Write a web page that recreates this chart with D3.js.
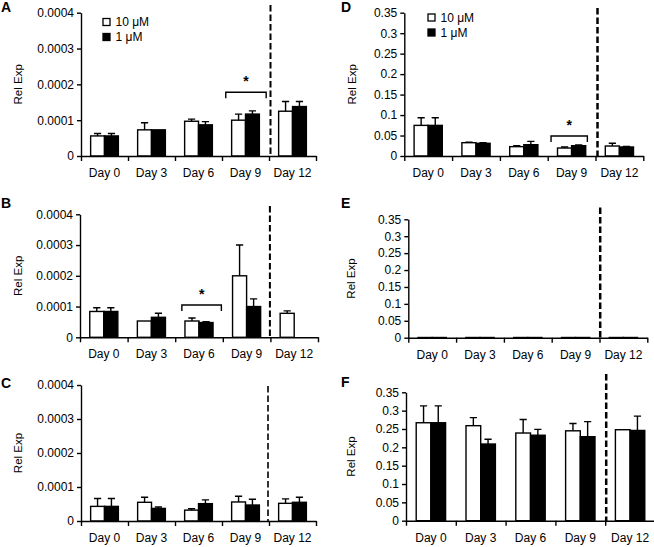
<!DOCTYPE html>
<html><head><meta charset="utf-8">
<script src="https://cdn.jsdelivr.net/npm/d3@7"></script>
<style>
body{margin:0;background:#fff}
svg{display:block}
text{font-family:"Liberation Sans",Arial,Helvetica,sans-serif;fill:#000}
</style>
</head><body>
<svg id="chart" width="654" height="547"></svg>
<script>
// ---------- DATA ----------
const categories = ["Day 0", "Day 3", "Day 6", "Day 9", "Day 12"];
const seriesNames = ["10 μM", "1 μM"];

const smallTicks = [0, 0.0001, 0.0002, 0.0003, 0.0004];
const smallTickLabels = ["0", "0.0001", "0.0002", "0.0003", "0.0004"];
const largeTicks = [0, 0.05, 0.1, 0.15, 0.2, 0.25, 0.3, 0.35];
const largeTickLabels = ["0", "0.05", "0.1", "0.15", "0.2", "0.25", "0.3", "0.35"];

// Panel A
const aHigh    = [0.000056, 0.000073, 0.000097, 0.000100, 0.000125];
const aHighErr = [0.000007, 0.000020, 0.000006, 0.000017, 0.000027];
const aLow     = [0.000056, 0.000073, 0.000087, 0.000117, 0.000138];
const aLowErr  = [0.000007, 0,        0.000009, 0.000009, 0.000014];
// Panel B
const bHigh    = [0.000084, 0.000053, 0.000053, 0.000200, 0.000078];
const bHighErr = [0.000012, 0,        0.000010, 0.000100, 0.000008];
const bLow     = [0.000084, 0.000065, 0.000048, 0.000100, null];
const bLowErr  = [0.000012, 0.000013, 0.000003, 0.000025, null];
// Panel C
const cHigh    = [0.000043, 0.000055, 0.000032, 0.000056, 0.000052];
const cHighErr = [0.000023, 0.000015, 0.000004, 0.000017, 0.000013];
const cLow     = [0.000043, 0.000037, 0.000051, 0.000047, 0.000055];
const cLowErr  = [0.000023, 0.000004, 0.000011, 0.000017, 0.000015];
// Panel D
const dHigh    = [0.0748, 0.0325, 0.0228, 0.0195, 0.0244];
const dHighErr = [0.0187, 0.0015, 0.0022, 0.0025, 0.0066];
const dLow     = [0.0748, 0.0310, 0.0276, 0.0252, 0.0220];
const dLowErr  = [0.0187, 0.0015, 0.0082, 0.0018, 0.0016];
// Panel E
const eHigh    = [0.0006, 0.0006, 0.0006, 0.0006, 0.0006];
const eHighErr = [0, 0, 0, 0, 0];
const eLow     = [0.0006, 0.0006, 0.0006, 0.0006, 0.0006];
const eLowErr  = [0, 0, 0, 0, 0];
// Panel F
const fHigh    = [0.267, 0.259, 0.239, 0.245, 0.248];
const fHighErr = [0.046, 0.022, 0.037, 0.020, 0];
const fLow     = [0.267, 0.209, 0.233, 0.229, 0.246];
const fLowErr  = [0.046, 0.013, 0.016, 0.041, 0.039];

// significance brackets: category, level (data units)
const sigA = {cat: "Day 9", level: 0.000178};
const sigB = {cat: "Day 6", level: 0.000105};
const sigD = {cat: "Day 9", level: 0.0488};

// ---------- LAYOUT ----------
const panels = [
  {letter:"A", lx:1, ly:12, x0:81, x1:316, top:12.7, bottom:156, ticks:smallTicks, labels:smallTickLabels, max:0.0004,
   hi:aHigh, hiE:aHighErr, lo:aLow, loE:aLowErr, sig:sigA, sigIn:[0.08,0.06], relX:22,
   dash:{dx:1.5, y1:5, y2:157, w:2}, legend:{x:103, y:18.5}},
  {letter:"B", lx:1, ly:208, x0:80, x1:318, top:214.3, bottom:337.3, ticks:smallTicks, labels:smallTickLabels, max:0.0004,
   hi:bHigh, hiE:bHighErr, lo:bLow, loE:bLowErr, sig:sigB, sigIn:[0.14,0.03], relX:22,
   dash:{dx:-0.5, y1:206, y2:338, w:2}},
  {letter:"C", lx:1, ly:388, x0:81, x1:316, top:385, bottom:521, ticks:smallTicks, labels:smallTickLabels, max:0.0004,
   hi:cHigh, hiE:cHighErr, lo:cLow, loE:cLowErr, sig:null, relX:22,
   dash:{dx:-1, y1:386, y2:521, w:1.6}},
  {letter:"D", lx:341, ly:12, x0:404.3, x1:643.3, top:12.7, bottom:156, ticks:largeTicks, labels:largeTickLabels, max:0.35,
   hi:dHigh, hiE:dHighErr, lo:dLow, loE:dLowErr, sig:sigD, sigIn:[0.07,0.17], relX:355.5,
   dash:{dx:2, y1:8, y2:159, w:2.5}, legend:{x:428, y:14}},
  {letter:"E", lx:341, ly:208, x0:408.3, x1:647.3, top:219.3, bottom:337.7, ticks:largeTicks, labels:largeTickLabels, max:0.35,
   hi:eHigh, hiE:eHighErr, lo:eLow, loE:eLowErr, sig:null, relX:355,
   dash:{dx:0.7, y1:207.5, y2:340, w:2.5}},
  {letter:"F", lx:341, ly:387, x0:406, x1:655, top:392.3, bottom:520.7, ticks:largeTicks, labels:largeTickLabels, max:0.35,
   hi:fHigh, hiE:fHighErr, lo:fLow, loE:fLowErr, sig:null, relX:355,
   dash:{dx:1, y1:374, y2:521, w:2.5}}
];

const svg = d3.select("#chart");

panels.forEach(p => {
  const g = svg.append("g");
  const x = d3.scaleBand().domain(categories).range([p.x0, p.x1]);
  const y = d3.scaleLinear().domain([0, p.max]).range([p.bottom, p.top]);
  const bw = x.bandwidth();
  const barW = bw * 0.295;

  // panel letter
  g.append("text").attr("x", p.lx).attr("y", p.ly)
    .style("font-size", "14px").style("font-weight", "bold").text(p.letter);

  // y label
  g.append("text")
    .attr("transform", `translate(${p.relX},${(p.top + p.bottom) / 2}) rotate(-90)`)
    .attr("text-anchor", "middle").style("font-size", "11.5px").text("Rel Exp");

  // bars
  const rows = [];
  categories.forEach((c, i) => {
    [[p.hi, p.hiE], [p.lo, p.loE]].forEach((s, si) => {
      const v = s[0][i];
      if (v === null || v === undefined) return;
      rows.push({c, si, v, e: s[1][i]});
    });
  });
  const cx = d => x(d.c) + bw / 2 - barW + d.si * barW;
  g.selectAll("rect.bar").data(rows).enter().append("rect")
    .attr("x", cx).attr("width", barW)
    .attr("y", d => y(d.v)).attr("height", d => y(0) - y(d.v))
    .attr("fill", d => d.si === 0 ? "#fff" : "#000")
    .attr("stroke", "#000").attr("stroke-width", 1.4);

  // error bars (upward only)
  const eb = rows.filter(d => d.e > 0);
  g.selectAll("path.err").data(eb).enter().append("path")
    .attr("d", d => {
      const xm = cx(d) + barW / 2, y0 = y(d.v), y1 = y(d.v + d.e);
      return `M${xm},${y0}V${y1}M${xm - 3.6},${y1}H${xm + 3.6}`;
    })
    .attr("fill", "none").attr("stroke", "#000").attr("stroke-width", 1.4);

  // y axis
  const ya = d3.axisLeft(y).tickValues(p.ticks).tickSize(4).tickSizeOuter(0).tickPadding(3)
    .tickFormat((d, i) => p.labels[i]);
  const yg = g.append("g").attr("transform", `translate(${p.x0},0)`).call(ya);
  yg.selectAll("text").style("font-size", "12px").style("font-family", '"Liberation Sans",Arial,sans-serif');
  yg.selectAll("path,line").attr("stroke", "#000").attr("stroke-width", 1.4);

  // x axis: boundary ticks
  const xb = d3.scaleLinear().domain([0, categories.length]).range([p.x0, p.x1]);
  const xa = d3.axisBottom(xb).tickValues(d3.range(categories.length + 1)).tickSize(5).tickSizeOuter(0).tickFormat("");
  const xg = g.append("g").attr("transform", `translate(0,${p.bottom})`).call(xa);
  xg.selectAll("path,line").attr("stroke", "#000").attr("stroke-width", 1.4);
  // x axis category labels
  const xl = d3.axisBottom(x).tickSize(0).tickPadding(12.5);
  const xlg = g.append("g").attr("transform", `translate(0,${p.bottom})`).call(xl);
  xlg.select(".domain").remove();
  xlg.selectAll("text").style("font-size", "12px").style("font-family", '"Liberation Sans",Arial,sans-serif');

  // dashed separator
  const xs = x("Day 12") + p.dash.dx;
  g.append("line").attr("x1", xs).attr("x2", xs).attr("y1", p.dash.y1).attr("y2", p.dash.y2)
    .attr("stroke", "#000").attr("stroke-width", p.dash.w).attr("stroke-dasharray", "6.5,3");

  // significance bracket
  if (p.sig) {
    const xL = x(p.sig.cat) + bw * p.sigIn[0], xR = x(p.sig.cat) + bw * (1 - p.sigIn[1]);
    const yy = y(p.sig.level);
    g.append("path").attr("d", `M${xL},${yy + 6}V${yy}H${xR}V${yy + 6}`)
      .attr("fill", "none").attr("stroke", "#000").attr("stroke-width", 1.4);
    g.append("text").attr("x", (xL + xR) / 2).attr("y", yy - 6).attr("text-anchor", "middle")
      .style("font-size", "14px").style("font-weight", "bold").text("*");
  }

  // legend
  if (p.legend) {
    seriesNames.forEach((n, i) => {
      const ly = p.legend.y + i * 15;
      g.append("rect").attr("x", p.legend.x).attr("y", ly).attr("width", 7).attr("height", 7)
        .attr("fill", i === 0 ? "#fff" : "#000").attr("stroke", "#000").attr("stroke-width", 1.3);
      g.append("text").attr("x", p.legend.x + 12.5).attr("y", ly + 7.5).style("font-size", "12px").text(n);
    });
  }
});
</script>
</body></html>
